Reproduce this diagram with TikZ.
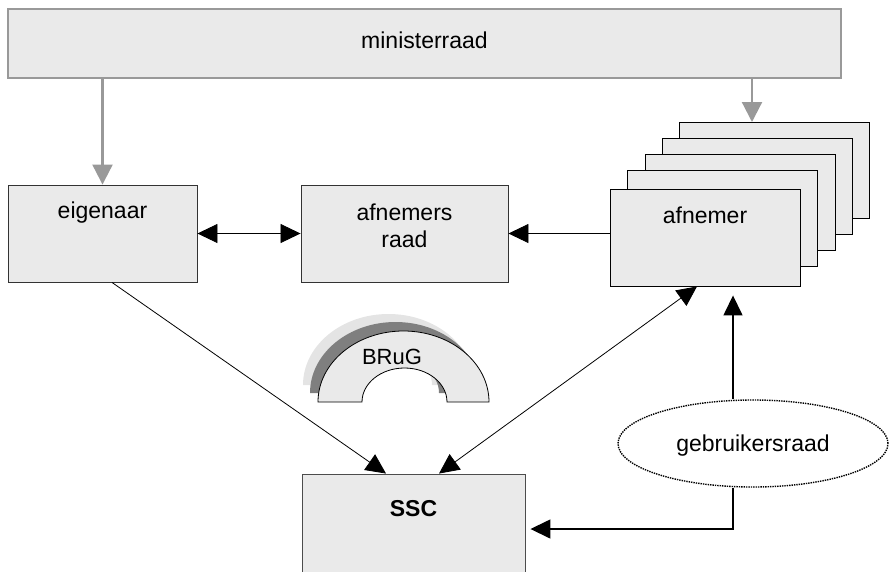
\documentclass[tikz,border=0pt]{standalone}
\usepackage{fontspec}
\setmainfont{Liberation Sans}
\usetikzlibrary{arrows.meta,shapes.geometric,calc}
\definecolor{boxfill}{HTML}{EAEAEA}
\definecolor{lineg}{HTML}{999999}
\definecolor{shadowlight}{HTML}{E4E4E4}
\definecolor{shadowdark}{HTML}{7F7F7F}
\tikzset{
  box/.style={draw=black!80, fill=boxfill, line width=0.9pt, rectangle, inner sep=0pt},
  lbl/.style={font=\fontsize{23}{27}\selectfont, inner sep=0pt, align=center},
  grayarr/.style={draw=lineg, line width=2.2pt, -{Triangle[length=20pt,width=20pt]}, color=lineg},
  thinarr/.style={line width=0.8pt, -{Triangle[length=20pt,width=19pt]}},
  thinboth/.style={line width=0.8pt, {Triangle[length=20pt,width=19pt]}-{Triangle[length=20pt,width=19pt]}},
  thickarr/.style={line width=1.5pt, -{Triangle[length=20pt,width=19pt]}},
  archshape/.style={line width=0.8pt},
}
\begin{document}
\begin{tikzpicture}[x=1pt,y=-1pt]
\clip (0,0) rectangle (889,571);
\useasboundingbox (0,0) rectangle (889,571);

% ministerraad
\node[box, draw=lineg, line width=1.4pt, minimum width=833pt, minimum height=69pt] (min) at (424.5,43.5) {};
\node[lbl] (mint) at (424.5,40) {ministerraad};

% eigenaar
\node[box, minimum width=189pt, minimum height=97pt] (eig) at (102.5,233.5) {};
\node[lbl] (eigt) at (102.5,213) {eigenaar};

% afnemers raad
\node[box, minimum width=207pt, minimum height=97pt] (ar) at (404.5,233.5) {};
\node[lbl] (art) at (404.5,226) {afnemers\\raad};

% afnemer stack
\node[box, draw=black, minimum width=190pt, minimum height=96pt] (af5) at (774,170) {};
\node[box, draw=black, minimum width=190pt, minimum height=96pt] (af4) at (757,186) {};
\node[box, draw=black, minimum width=190pt, minimum height=96pt] (af3) at (740,202) {};
\node[box, draw=black, minimum width=190pt, minimum height=96pt] (af2) at (722.5,218) {};
\node[box, draw=black, minimum width=190pt, minimum height=97pt] (af1) at (705,237.5) {};
\node[lbl] (af1t) at (705,215) {afnemer};

% SSC
\node[box, draw=black!70, minimum width=223pt, minimum height=110pt] (ssc) at (413.5,529) {};
\node[lbl, font=\fontsize{23}{27}\selectfont\bfseries] (ssct) at (413.5,509) {SSC};

% gebruikersraad
\node[ellipse, draw, densely dotted, line width=1.4pt, minimum width=270pt, minimum height=87pt, inner sep=0pt] (geb) at (753,443.5) {};
\node[lbl] (gebt) at (753,446) {gebruikersraad};

% BRuG arch
\fill[shadowlight] (303,385) arc[start angle=180,end angle=0,x radius=85.5pt,y radius=71pt] -- (432,385) arc[start angle=0,end angle=180,x radius=42.5pt,y radius=34pt] -- cycle;
\fill[shadowdark] (310,393) arc[start angle=180,end angle=0,x radius=85.5pt,y radius=71pt] -- (439,393) arc[start angle=0,end angle=180,x radius=42.5pt,y radius=34pt] -- cycle;
\draw[archshape, fill=boxfill] (318,402) arc[start angle=180,end angle=0,x radius=85.5pt,y radius=71pt] -- (447,402) arc[start angle=0,end angle=180,x radius=42.5pt,y radius=34pt] -- cycle;
\node[lbl, font=\fontsize{22}{26}\selectfont] (brug) at (392,357) {BRuG};

% connectors
\coordinate (gtop) at (752,122);
\coordinate (vx) at (733,0);
\draw[grayarr] (min.south -| eig.north) -- (eig.north);
\draw[grayarr] (min.south -| gtop) -- (gtop);
\draw[thinboth] (eig.east) -- (ar.west);
\draw[thinarr] (af1.west |- ar.east) -- (ar.east);
\draw[thinarr] ([xshift=9.5pt]eig.south) -- ([xshift=-27.5pt]ssc.north);
\draw[thinboth] ([xshift=-8pt]af1.south) -- ([xshift=25.5pt]ssc.north);
\draw[thickarr] (vx |- geb.north) -- ([yshift=-9pt]vx |- af1.south);
\draw[thickarr] (vx |- geb.south) |- ([xshift=5pt]ssc.east);
\end{tikzpicture}
\end{document}
